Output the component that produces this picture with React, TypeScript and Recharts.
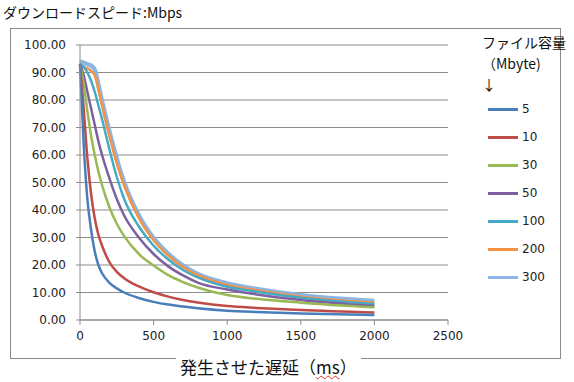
import React from "react";
import { LineChart, Line, XAxis, YAxis, CartesianGrid } from "recharts";

const delays = [0, 25, 50, 75, 100, 125, 150, 200, 250, 300, 400, 500, 600, 700, 800, 1000, 1200, 1500, 2000];
const s5 = [93, 64, 44, 33, 25, 20, 17, 13.5, 11.5, 10, 8, 6.6, 5.6, 4.9, 4.3, 3.4, 2.9, 2.4, 1.8];
const s10 = [93, 77, 59, 46, 37, 31, 27, 21, 17.5, 15.2, 12.2, 10.1, 8.5, 7.3, 6.4, 5.1, 4.4, 3.6, 2.7];
const s30 = [93, 86, 76, 67, 60, 54, 49, 41, 35, 30.5, 24, 19.8, 16.3, 13.8, 11.8, 9.1, 7.7, 6.3, 4.6];
const s50 = [93, 89, 83, 77, 71, 65, 60, 51.5, 44, 38, 30, 24, 19.5, 16.2, 13.6, 11.1, 9.3, 7.3, 5.1];
const s100 = [93, 92, 90, 87, 83, 78, 73, 62, 52, 44, 34, 27, 22, 18.2, 15.5, 12.1, 10.3, 8.1, 5.8];
const s200 = [93, 92, 91.5, 90.5, 89, 84, 78, 67, 57, 49, 37, 29, 23.4, 19.3, 16.3, 12.7, 10.8, 8.5, 6.3];
const s300 = [94, 93.5, 93, 92.5, 91, 85.5, 79.5, 68.5, 58.5, 50, 38, 29.8, 24, 19.8, 16.7, 13.3, 11.3, 9.0, 6.9];

const seriesNames = ["5", "10", "30", "50", "100", "200", "300"];
const seriesValues = [s5, s10, s30, s50, s100, s200, s300];
const colors = ["#4A7EBB", "#BE4B48", "#98B954", "#7D60A0", "#46AAC5", "#F69240", "#8EB4E3"];

const xTicks = [0, 500, 1000, 1500, 2000, 2500];
const yTicks = [0, 10, 20, 30, 40, 50, 60, 70, 80, 90, 100];

const chartTitle = "ダウンロードスピード:Mbps";
const xTitle = "発生させた遅延（";
const xTitleUnit = "ms";
const xTitleEnd = "）";
const legendTitle = ["ファイル容量", "（Mbyte)", "↓"];

const data = delays.map((d, i) => {
  const row: any = { x: d };
  seriesNames.forEach((n, k) => {
    row["s" + n] = seriesValues[k][i];
  });
  return row;
});

const jp = "'Noto Sans CJK JP', sans-serif";
const num = "'DejaVu Sans', sans-serif";

export default function App() {
  const drawOrder = [6, 5, 4, 3, 2, 1, 0];
  return (
    <div style={{ position: "absolute", left: 0, top: 0, width: 574, height: 382, background: "#fff" }}>
      <div
        style={{
          position: "absolute",
          left: 10,
          top: 28,
          width: 549,
          height: 329,
          border: "1px solid #8a8a8a",
        }}
      />
      <div style={{ position: "absolute", left: 3, top: 3, fontFamily: jp, fontSize: 14, color: "#111", lineHeight: "18px" }}>
        {chartTitle}
      </div>
      <div style={{ position: "absolute", left: 0, top: 0 }}>
        <LineChart width={574} height={382} data={data} margin={{ top: 45, right: 126, bottom: 32, left: 20 }}>
          <CartesianGrid vertical={false} stroke="#8c8c8c" strokeWidth={1} />
          <XAxis
            dataKey="x"
            type="number"
            domain={[0, 2500]}
            ticks={xTicks}
            stroke="#8c8c8c"
            tickSize={5}
            tickMargin={6}
            height={30}
            tick={{ fontFamily: num, fontSize: 12, fill: "#222" }}
          />
          <YAxis
            type="number"
            domain={[0, 100]}
            ticks={yTicks}
            width={60}
            stroke="#8c8c8c"
            tickSize={4}
            tickMargin={10}
            tickFormatter={(v: number) => v.toFixed(2)}
            tick={{ fontFamily: num, fontSize: 12, fill: "#222" }}
          />
          {drawOrder.map((k) => (
            <Line
              key={seriesNames[k]}
              dataKey={"s" + seriesNames[k]}
              type="monotone"
              stroke={colors[k]}
              strokeWidth={k === 6 ? 4.5 : 2.5}
              dot={false}
              isAnimationActive={false}
            />
          ))}
        </LineChart>
      </div>
      <div
        style={{
          position: "absolute",
          left: 176,
          top: 356,
          padding: "0 4px",
          background: "#fff",
          fontFamily: jp,
          fontSize: 17,
          lineHeight: "22px",
          color: "#111",
          whiteSpace: "nowrap",
        }}
      >
        {xTitle}
        <span style={{ textDecoration: "underline wavy #e03030", textDecorationThickness: 1 }}>{xTitleUnit}</span>
        {xTitleEnd}
      </div>
      <div style={{ position: "absolute", left: 482, top: 32, fontFamily: jp, fontSize: 14, lineHeight: "21px", color: "#111" }}>
        {legendTitle.map((t) => (
          <div key={t}>{t}</div>
        ))}
      </div>
      {seriesNames.map((n, k) => (
        <div key={n} style={{ position: "absolute", left: 488, top: 101 + k * 28, height: 16, display: "flex", alignItems: "center" }}>
          <div style={{ width: 30, height: 3, background: colors[k] }} />
          <span style={{ marginLeft: 4, fontFamily: num, fontSize: 12, color: "#222" }}>{n}</span>
        </div>
      ))}
    </div>
  );
}
